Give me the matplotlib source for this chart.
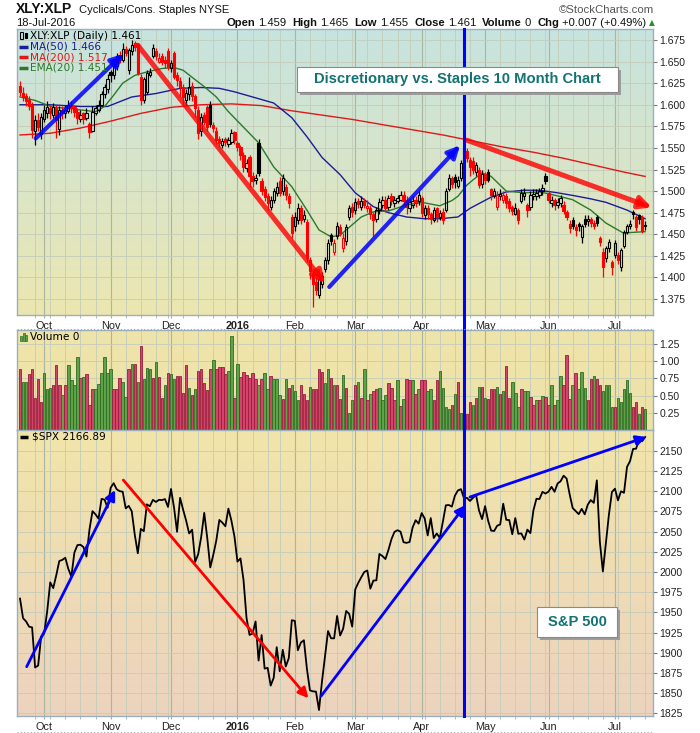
import numpy as np
import pandas as pd
import matplotlib
matplotlib.use("Agg")
import matplotlib.pyplot as plt
import matplotlib.colors as mcolors
import matplotlib.transforms as mtransforms
from matplotlib.lines import Line2D
from matplotlib.patches import Rectangle

# trading days on the chart (21-Sep-2015 .. 18-Jul-2016)
holidays = ["2015-11-26", "2015-12-25", "2016-01-01", "2016-01-18",
            "2016-02-15", "2016-03-25", "2016-05-30", "2016-07-04"]
dates = pd.bdate_range("2015-09-21", "2016-07-18")
dates = dates[~dates.isin(pd.to_datetime(holidays))]
event_day = "2016-04-21"

# XLY:XLP daily candles
opens = [1.622, 1.614, 1.610, 1.606, 1.600, 1.570, 1.582, 1.566, 1.584, 1.590,
         1.596, 1.588, 1.596, 1.572, 1.594, 1.590, 1.593, 1.600, 1.597, 1.592,
         1.584, 1.590, 1.585, 1.578, 1.570, 1.590, 1.594, 1.600, 1.612, 1.618,
         1.638, 1.634, 1.645, 1.658, 1.652, 1.664, 1.640, 1.662, 1.672, 1.670,
         1.632, 1.606, 1.615, 1.634, 1.656, 1.662, 1.650, 1.656, 1.652, 1.662,
         1.642, 1.660, 1.634, 1.628, 1.620, 1.606, 1.612, 1.622, 1.610, 1.594,
         1.570, 1.588, 1.597, 1.600, 1.576, 1.570, 1.560, 1.553, 1.560, 1.555,
         1.557, 1.568, 1.556, 1.551, 1.542, 1.527, 1.540, 1.518, 1.513, 1.556,
         1.512, 1.502, 1.494, 1.482, 1.490, 1.498, 1.512, 1.500, 1.505, 1.494,
         1.470, 1.460, 1.466, 1.480, 1.468, 1.464, 1.420, 1.405, 1.395, 1.380,
         1.392, 1.410, 1.420, 1.449, 1.430, 1.448, 1.458, 1.434, 1.442, 1.470,
         1.482, 1.478, 1.488, 1.482, 1.488, 1.480, 1.480, 1.474, 1.468, 1.478,
         1.484, 1.490, 1.482, 1.494, 1.486, 1.488, 1.490, 1.496, 1.490, 1.480,
         1.484, 1.490, 1.488, 1.492, 1.472, 1.480, 1.474, 1.466, 1.480, 1.470,
         1.476, 1.478, 1.502, 1.515, 1.516, 1.506, 1.515, 1.534, 1.546, 1.536,
         1.535, 1.522, 1.524, 1.508, 1.520, 1.522, 1.502, 1.494, 1.482, 1.494,
         1.490, 1.494, 1.488, 1.482, 1.474, 1.478, 1.488, 1.494, 1.484, 1.482,
         1.494, 1.494, 1.496, 1.500, 1.518, 1.498, 1.486, 1.490, 1.484, 1.486,
         1.484, 1.476, 1.462, 1.466, 1.458, 1.462, 1.447, 1.468, 1.465, 1.468,
         1.463, 1.470, 1.446, 1.430, 1.422, 1.434, 1.418, 1.426, 1.426, 1.412,
         1.436, 1.453, 1.459, 1.476, 1.470, 1.472, 1.470, 1.459]
highs = [1.628, 1.620, 1.614, 1.610, 1.603, 1.588, 1.590, 1.590, 1.600, 1.604,
         1.600, 1.602, 1.600, 1.598, 1.598, 1.600, 1.606, 1.604, 1.600, 1.596,
         1.594, 1.592, 1.596, 1.580, 1.598, 1.600, 1.606, 1.616, 1.624, 1.636,
         1.640, 1.648, 1.660, 1.662, 1.672, 1.668, 1.666, 1.675, 1.674, 1.672,
         1.636, 1.632, 1.640, 1.642, 1.670, 1.666, 1.660, 1.660, 1.656, 1.666,
         1.652, 1.662, 1.638, 1.632, 1.624, 1.618, 1.632, 1.626, 1.612, 1.598,
         1.590, 1.592, 1.600, 1.604, 1.580, 1.574, 1.564, 1.562, 1.563, 1.563,
         1.572, 1.570, 1.558, 1.553, 1.545, 1.537, 1.542, 1.522, 1.520, 1.560,
         1.515, 1.506, 1.498, 1.494, 1.504, 1.510, 1.516, 1.520, 1.508, 1.498,
         1.474, 1.476, 1.486, 1.484, 1.478, 1.468, 1.424, 1.410, 1.400, 1.404,
         1.406, 1.424, 1.444, 1.452, 1.444, 1.464, 1.462, 1.452, 1.462, 1.484,
         1.486, 1.492, 1.492, 1.494, 1.492, 1.490, 1.484, 1.476, 1.482, 1.492,
         1.494, 1.494, 1.496, 1.498, 1.494, 1.496, 1.500, 1.500, 1.494, 1.492,
         1.494, 1.494, 1.500, 1.494, 1.484, 1.484, 1.476, 1.482, 1.482, 1.478,
         1.480, 1.504, 1.520, 1.518, 1.520, 1.518, 1.536, 1.559, 1.550, 1.540,
         1.540, 1.534, 1.528, 1.524, 1.522, 1.526, 1.504, 1.504, 1.500, 1.502,
         1.500, 1.498, 1.492, 1.484, 1.486, 1.480, 1.502, 1.504, 1.486, 1.500,
         1.502, 1.502, 1.504, 1.508, 1.521, 1.500, 1.494, 1.492, 1.492, 1.496,
         1.488, 1.478, 1.466, 1.470, 1.462, 1.464, 1.462, 1.472, 1.472, 1.470,
         1.466, 1.472, 1.448, 1.434, 1.436, 1.444, 1.420, 1.443, 1.430, 1.434,
         1.455, 1.462, 1.466, 1.478, 1.472, 1.474, 1.472, 1.465]
lows = [1.610, 1.604, 1.598, 1.594, 1.562, 1.553, 1.570, 1.560, 1.580, 1.585,
        1.584, 1.585, 1.562, 1.565, 1.584, 1.585, 1.590, 1.590, 1.586, 1.578,
        1.580, 1.578, 1.582, 1.562, 1.568, 1.588, 1.592, 1.598, 1.608, 1.614,
        1.626, 1.630, 1.640, 1.648, 1.650, 1.656, 1.636, 1.658, 1.662, 1.634,
        1.600, 1.602, 1.612, 1.632, 1.654, 1.652, 1.648, 1.646, 1.642, 1.640,
        1.638, 1.630, 1.622, 1.610, 1.600, 1.600, 1.605, 1.604, 1.586, 1.560,
        1.564, 1.576, 1.570, 1.574, 1.568, 1.555, 1.551, 1.550, 1.552, 1.551,
        1.555, 1.555, 1.546, 1.536, 1.522, 1.522, 1.505, 1.505, 1.508, 1.518,
        1.496, 1.488, 1.478, 1.478, 1.486, 1.494, 1.494, 1.496, 1.490, 1.480,
        1.446, 1.454, 1.462, 1.462, 1.464, 1.418, 1.398, 1.366, 1.380, 1.376,
        1.388, 1.406, 1.416, 1.438, 1.426, 1.444, 1.448, 1.430, 1.438, 1.466,
        1.470, 1.474, 1.480, 1.478, 1.480, 1.476, 1.468, 1.448, 1.464, 1.474,
        1.480, 1.476, 1.478, 1.484, 1.482, 1.486, 1.488, 1.484, 1.474, 1.476,
        1.480, 1.482, 1.484, 1.470, 1.468, 1.468, 1.462, 1.464, 1.464, 1.466,
        1.462, 1.476, 1.500, 1.504, 1.504, 1.504, 1.512, 1.530, 1.534, 1.518,
        1.520, 1.518, 1.504, 1.504, 1.508, 1.510, 1.490, 1.492, 1.478, 1.490,
        1.486, 1.480, 1.476, 1.472, 1.472, 1.462, 1.486, 1.490, 1.470, 1.478,
        1.490, 1.490, 1.492, 1.496, 1.508, 1.486, 1.482, 1.478, 1.480, 1.482,
        1.474, 1.466, 1.452, 1.456, 1.448, 1.454, 1.440, 1.458, 1.460, 1.458,
        1.456, 1.460, 1.436, 1.401, 1.418, 1.430, 1.403, 1.422, 1.416, 1.408,
        1.434, 1.450, 1.456, 1.468, 1.454, 1.462, 1.452, 1.455]
closes = [1.615, 1.609, 1.604, 1.598, 1.571, 1.582, 1.574, 1.586, 1.594, 1.597,
          1.590, 1.597, 1.582, 1.594, 1.590, 1.594, 1.600, 1.596, 1.592, 1.585,
          1.588, 1.584, 1.590, 1.568, 1.592, 1.596, 1.600, 1.612, 1.620, 1.630,
          1.634, 1.645, 1.656, 1.652, 1.665, 1.660, 1.663, 1.669, 1.667, 1.637,
          1.605, 1.630, 1.637, 1.638, 1.666, 1.656, 1.654, 1.650, 1.648, 1.644,
          1.648, 1.632, 1.629, 1.620, 1.609, 1.614, 1.621, 1.610, 1.596, 1.567,
          1.586, 1.580, 1.574, 1.578, 1.573, 1.559, 1.556, 1.558, 1.557, 1.559,
          1.567, 1.559, 1.551, 1.542, 1.528, 1.532, 1.517, 1.512, 1.515, 1.521,
          1.500, 1.493, 1.486, 1.490, 1.500, 1.505, 1.498, 1.515, 1.495, 1.486,
          1.452, 1.470, 1.480, 1.466, 1.472, 1.422, 1.408, 1.392, 1.386, 1.400,
          1.402, 1.420, 1.440, 1.442, 1.440, 1.460, 1.452, 1.446, 1.458, 1.480,
          1.476, 1.487, 1.485, 1.488, 1.484, 1.483, 1.474, 1.467, 1.478, 1.487,
          1.490, 1.480, 1.492, 1.488, 1.490, 1.492, 1.496, 1.489, 1.482, 1.487,
          1.488, 1.486, 1.495, 1.475, 1.480, 1.473, 1.468, 1.478, 1.470, 1.475,
          1.467, 1.500, 1.515, 1.508, 1.510, 1.513, 1.532, 1.550, 1.538, 1.528,
          1.524, 1.530, 1.507, 1.520, 1.513, 1.513, 1.496, 1.500, 1.496, 1.497,
          1.495, 1.486, 1.480, 1.477, 1.480, 1.466, 1.498, 1.498, 1.478, 1.496,
          1.497, 1.498, 1.500, 1.504, 1.512, 1.490, 1.490, 1.484, 1.487, 1.492,
          1.477, 1.470, 1.457, 1.460, 1.455, 1.459, 1.460, 1.462, 1.468, 1.463,
          1.459, 1.463, 1.441, 1.412, 1.434, 1.441, 1.412, 1.440, 1.420, 1.432,
          1.453, 1.460, 1.462, 1.473, 1.458, 1.468, 1.454, 1.461]

# overlays (day index, value)
ma50_x = [0, 10, 20, 29, 37, 45, 53, 60, 66, 71, 78, 84, 90, 95, 100, 106, 111, 117,
          122, 128, 134, 139, 145, 149, 156, 161, 167, 172, 178, 183, 189, 194, 201, 207]
ma50_y = [1.600, 1.600, 1.598, 1.598, 1.609, 1.613, 1.619, 1.620, 1.619, 1.615, 1.608,
          1.602, 1.585, 1.563, 1.539, 1.519, 1.498, 1.482, 1.475, 1.470, 1.468, 1.468,
          1.470, 1.480, 1.493, 1.499, 1.501, 1.501, 1.498, 1.495, 1.491, 1.487, 1.478, 1.468]
ma200_x = [0, 10, 20, 30, 40, 50, 60, 70, 80, 90, 100, 110, 120, 130, 140, 150,
           160, 170, 180, 190, 200, 207]
ma200_y = [1.565, 1.567, 1.573, 1.581, 1.590, 1.597, 1.600, 1.601, 1.599, 1.593, 1.588,
           1.583, 1.577, 1.571, 1.565, 1.558, 1.551, 1.545, 1.538, 1.530, 1.522, 1.517]
ema20_x = [0, 5, 11, 16, 20, 25, 28, 31, 34, 38, 42, 47, 51, 54, 58, 61, 65, 69, 74, 79,
           84, 90, 95, 99, 103, 106, 109, 113, 117, 122, 128, 133, 139, 143, 145, 148,
           150, 153, 156, 161, 167, 172, 175, 183, 189, 194, 200, 202, 207]
ema20_y = [1.609, 1.605, 1.597, 1.596, 1.594, 1.592, 1.598, 1.611, 1.625, 1.634, 1.638,
           1.642, 1.643, 1.640, 1.629, 1.621, 1.609, 1.592, 1.574, 1.556, 1.528, 1.505,
           1.478, 1.455, 1.447, 1.449, 1.458, 1.470, 1.476, 1.477, 1.484, 1.487, 1.483,
           1.489, 1.494, 1.507, 1.513, 1.521, 1.517, 1.500, 1.498, 1.499, 1.497, 1.490,
           1.478, 1.463, 1.451, 1.452, 1.453]

volume = [0.89, 0.70, 0.70, 0.82, 0.89, 0.47, 0.745, 0.40, 0.83, 0.60,
          0.61, 0.66, 0.95, 0.65, 0.51, 0.66, 0.95, 0.73, 0.65, 1.06,
          0.76, 0.77, 0.82, 0.36, 0.60, 0.60, 0.67, 0.83, 1.06, 0.83,
          0.89, 0.59, 0.59, 0.76, 0.70, 0.48, 0.88, 0.96, 0.96, 0.70,
          1.225, 0.745, 0.905, 0.89, 0.76, 0.99, 0.77, 0.47, 0.66, 0.83,
          0.82, 0.745, 0.79, 0.78, 0.54, 0.95, 0.61, 0.51, 0.60, 0.86,
          0.89, 0.69, 0.58, 0.89, 1.01, 0.88, 0.92, 0.92, 0.82, 0.86,
          1.37, 0.47, 0.96, 0.77, 0.84, 0.80, 0.76, 0.83, 0.745, 0.66,
          0.745, 0.83, 0.60, 0.78, 0.745, 0.745, 0.51, 0.455, 0.745, 0.61,
          0.66, 0.57, 0.44, 0.65, 0.52, 0.44, 0.62, 0.60, 0.59, 0.89,
          0.84, 0.69, 0.88, 0.76, 0.66, 0.65, 0.455, 0.80, 0.61, 0.25,
          0.44, 0.65, 0.70, 0.47, 0.88, 0.44, 0.52, 0.57, 0.59, 0.61,
          0.44, 0.51, 0.69, 0.61, 0.44, 0.72, 0.35, 0.455, 0.745, 0.73,
          0.72, 0.52, 0.60, 0.73, 0.72, 0.57, 0.59, 0.44, 0.73, 0.86,
          0.61, 0.34, 0.30, 0.36, 0.52, 0.70, 0.24, 0.18, 0.23, 0.40,
          0.37, 0.47, 0.62, 0.62, 0.47, 0.455, 0.59, 0.59, 0.62, 0.52,
          0.56, 0.935, 0.47, 0.70, 0.54, 0.34, 0.59, 0.56, 0.56, 0.48,
          0.36, 0.44, 0.44, 0.50, 0.48, 0.37, 0.65, 0.37, 0.43, 0.78,
          0.65, 1.09, 0.455, 0.66, 0.83, 0.59, 0.84, 0.61, 0.43, 0.745,
          0.78, 0.745, 0.65, 0.56, 0.66, 0.65, 0.33, 0.33, 0.47, 0.40,
          0.59, 0.72, 0.54, 0.33, 0.40, 0.23, 0.33, 0.30]
vol_dir = ("rggrrrrrgg" "grrrgrgggg" "rgrrrggggg" "grrrggrgrg" "rgggrgrrgr"
           "ggrrrrgrgr" "rrrrgrrrrg" "grgrrrrrrg" "rggrgggrgr" "gggrrrgrrr"
           "rggrgrrgrg" "grgrgrgrrg" "ggrrrgrgrr" "grgrrggrrg" "gggrgrggrr"
           "grgrgrrrgr" "grrgggrggr" "rgrgrrgrgg" "rrrgrgggrr" "grrggggrgg"
           "gggrrgrg")

spx = [1966.97, 1942.74, 1938.76, 1932.24, 1931.34, 1881.77, 1884.09, 1920.03,
       1923.82, 1951.36, 1987.05, 1979.92, 1995.83, 2013.43, 2014.89, 2017.46, 2003.69,
       1994.24, 2023.86, 2033.11, 2033.66, 2030.77, 2018.94, 2052.51, 2075.15, 2071.18,
       2065.89, 2090.35, 2089.41, 2079.36,
       2104.05, 2109.79, 2102.31, 2099.93, 2099.20, 2078.58, 2081.72, 2075.00, 2045.97,
       2023.04, 2053.19, 2050.44, 2083.58, 2081.24, 2089.17, 2086.59, 2089.14, 2088.87,
       2090.11, 2080.41,
       2102.63, 2079.51, 2049.62, 2091.69, 2077.07, 2063.59, 2047.62, 2052.23, 2012.37,
       2021.94, 2043.41, 2073.07, 2041.89, 2005.55, 2021.15, 2038.97, 2064.29, 2060.99,
       2056.50, 2078.36, 2063.36, 2043.94,
       2012.66, 2016.71, 1990.26, 1943.09, 1922.03, 1923.67, 1938.68, 1890.28, 1921.84,
       1880.33, 1881.33, 1859.33, 1868.99, 1906.90, 1877.08, 1903.63, 1882.95, 1893.36,
       1940.24,
       1939.38, 1903.03, 1912.53, 1915.45, 1880.05, 1853.44, 1852.21, 1851.86, 1829.08,
       1864.78, 1895.58, 1926.82, 1917.83, 1917.78, 1945.50, 1921.27, 1929.80, 1951.70,
       1948.05, 1932.23,
       1978.35, 1986.45, 1993.40, 1999.99, 2001.76, 1979.26, 1989.26, 1989.57, 2022.19,
       2019.64, 2015.93, 2027.22, 2040.59, 2049.58, 2051.60, 2049.80, 2036.71, 2035.94,
       2037.05, 2055.01, 2063.95, 2059.74,
       2072.78, 2066.13, 2045.17, 2066.66, 2041.91, 2047.60, 2041.99, 2061.72, 2082.42,
       2082.78, 2080.73, 2094.34, 2100.80, 2102.40, 2091.48, 2091.58, 2087.79, 2091.70,
       2095.15, 2075.81, 2065.30,
       2081.43, 2063.37, 2051.12, 2050.63, 2057.14, 2058.69, 2084.39, 2064.46, 2064.11,
       2046.61, 2066.66, 2047.21, 2047.63, 2040.04, 2052.32, 2048.04, 2076.06, 2090.54,
       2090.10, 2099.06, 2096.95,
       2099.33, 2105.26, 2099.13, 2109.41, 2112.13, 2119.12, 2115.48, 2096.07, 2079.06,
       2075.32, 2071.50, 2077.99, 2071.22, 2083.25, 2088.90, 2085.45, 2113.32, 2037.41,
       2000.54, 2036.09, 2070.77, 2098.86,
       2102.95, 2088.55, 2099.73, 2097.90, 2129.90, 2137.16, 2152.14, 2152.43, 2163.75,
       2161.74, 2166.89]

# hand-drawn trend arrows (start day, start value, end day, end value, colour)
arrows_top = [(5.2, 1.561, 34.2, 1.659, "blue"), (39.0, 1.669, 101.0, 1.393, "red"),
              (102.4, 1.389, 145.7, 1.553, "blue"), (147.9, 1.559, 209.2, 1.481, "red")]
arrows_spx = [(2.2, 1882.7, 31.5, 2101.4, "blue"), (34.2, 2113.7, 95.5, 1843.6, "red"),
              (99.7, 1846.4, 147.5, 2082.8, "blue"), (149.0, 2092.7, 207.4, 2167.0, "blue")]

top_ticks = [1.375 + 0.025 * i for i in range(13)]
vol_ticks = [0.25, 0.50, 0.75, 1.00, 1.25]
spx_ticks = list(range(1825, 2151, 25))

plt.rcParams["font.family"] = ["Liberation Sans", "DejaVu Sans"]
W, H = 700, 733
fig = plt.figure(figsize=(W / 100, H / 100), dpi=100)
PIX = mtransforms.IdentityTransform()

n = len(dates)
x = np.arange(n)
month_idx = [i for i in range(1, n) if dates[i].month != dates[i - 1].month]
month_lbl = [("2016" if dates[i].month == 1 else dates[i].strftime("%b")) for i in month_idx]
week_idx = [i for i in range(1, n) if dates[i].weekday() < dates[i - 1].weekday()]
ev = dates.get_loc(pd.Timestamp(event_day))

L, R = 17, 653
ax1 = fig.add_axes([L / W, 1 - 315 / H, (R - L) / W, (315 - 28.5) / H])
ax2 = fig.add_axes([L / W, 1 - 430 / H, (R - L) / W, (430 - 329.5) / H])
ax3 = fig.add_axes([L / W, 1 - 716 / H, (R - L) / W, (716 - 430) / H])


def shade(ax, top, bottom):
    t = np.array(mcolors.to_rgb(top))
    b = np.array(mcolors.to_rgb(bottom))
    k = np.linspace(0, 1, 256)[:, None, None]
    ax.imshow(t * (1 - k) + b * k, extent=[0, 1, 0, 1], transform=ax.transAxes,
              aspect="auto", zorder=0, interpolation="bilinear")


def frame(ax, ticks, fmt, lim):
    for i in week_idx:
        ax.axvline(i, color="#c3ccb9", lw=0.6, zorder=1)
    for i in month_idx:
        ax.axvline(i, color="#a9b59f", lw=0.8, zorder=1)
    for v in ticks:
        ax.axhline(v, color="#c3ccb9", lw=0.6, zorder=1)
    ax.set_xlim(-1.0, 209.6)
    ax.set_ylim(*lim)
    ax.yaxis.tick_right()
    ax.set_yticks(ticks)
    ax.set_yticklabels([fmt % v for v in ticks])
    ax.tick_params(axis="y", length=3, width=0.8, color="#777777", labelsize=7.5,
                   labelcolor="#222222", pad=1.5)
    for s in ax.spines.values():
        s.set_color("#9bb0ba")
        s.set_linewidth(1)


def months(ax):
    ax.set_xticks(month_idx)
    ax.set_xticklabels(month_lbl)
    ax.set_xticks(week_idx, minor=True)
    ax.tick_params(axis="x", which="both", length=2, color="#aaaaaa", labelsize=7.8,
                   labelcolor="#222222", pad=2.5)
    for t in ax.get_xticklabels():
        if t.get_text() == "2016":
            t.set_fontweight("bold")


# ---- price panel
shade(ax1, "#c6e3e0", "#ece7b1")
frame(ax1, top_ticks, "%.3f", (1.3565, 1.6883))
months(ax1)
ax1.plot(ma200_x, ma200_y, color="#e01818", lw=1.0, zorder=3)
ax1.plot(ma50_x, ma50_y, color="#1c1c96", lw=1.0, zorder=3)
ax1.plot(ema20_x, ema20_y, color="#2a7a2a", lw=1.0, zorder=3)

o, h, l, c = map(np.array, (opens, highs, lows, closes))
prev = np.r_[o[0], c[:-1]]
edge = np.where(c >= prev, "black", "red")
face = [e if cc < oo else "none" for e, cc, oo in zip(edge, c, o)]
top = np.maximum(o, c)
bot = np.minimum(o, c)
ax1.vlines(x, top, h, colors=edge, lw=0.9, zorder=4)
ax1.vlines(x, l, bot, colors=edge, lw=0.9, zorder=4)
ax1.bar(x, np.maximum(top - bot, 0.0007), bottom=bot, width=0.75, color=face,
        edgecolor=edge, linewidth=0.8, zorder=4)

for x0, y0, x1, y1, col in arrows_top:
    rgba = (0, 0, 1, 0.85) if col == "blue" else (1, 0, 0, 0.8)
    ax1.annotate("", xy=(x1, y1), xytext=(x0, y0), annotation_clip=False, zorder=6,
                 arrowprops=dict(arrowstyle="-|>", color=rgba, lw=3.0 if col == "blue" else 3.6,
                                 mutation_scale=18, shrinkA=0, shrinkB=0))

# ---- volume panel
shade(ax2, "#efe4aa", "#ede2a6")
frame(ax2, vol_ticks, "%.2f", (0, 1.46))
ax2.set_xticks([])
vfill = {"r": "#d4436a", "g": "#5ea34a"}
vedge = {"r": "#9a1c3d", "g": "#2f6c22"}
ax2.bar(x, volume, width=0.82, color=[vfill[d] for d in vol_dir],
        edgecolor=[vedge[d] for d in vol_dir], linewidth=0.6, zorder=3)

# ---- S&P 500 panel
shade(ax3, "#f1e5aa", "#ecd3bf")
frame(ax3, spx_ticks, "%d", (1821.7, 2175.6))
months(ax3)
ax3.plot(x, spx, color="black", lw=1.3, zorder=4)
for x0, y0, x1, y1, col in arrows_spx:
    ax3.annotate("", xy=(x1, y1), xytext=(x0, y0), annotation_clip=False, zorder=6,
                 arrowprops=dict(arrowstyle="-|>", color=col, lw=2.0,
                                 mutation_scale=15, shrinkA=0, shrinkB=0))

# vertical marker through all panels
blend = mtransforms.blended_transform_factory(ax1.transData, fig.transFigure)
fig.add_artist(Line2D([ev, ev], [1 - 716 / H, 1 - 28.5 / H], transform=blend,
                      color="#0000ff", lw=2.2, zorder=10))

# dotted separators
for yy in (328.5, 731.5):
    fig.add_artist(Line2D([L, R], [H - yy, H - yy], transform=PIX, color="#9aa8b0",
                          lw=0.8, ls=(0, (1, 2)), zorder=10))


def note(x0, y0, x1, y1, s, size):
    fig.add_artist(Rectangle((x0 + 3, H - y1 - 3), x1 - x0, y1 - y0, transform=PIX,
                             fc="#9c9c9c", ec="none", zorder=20))
    fig.add_artist(Rectangle((x0, H - y1), x1 - x0, y1 - y0, transform=PIX,
                             fc="white", ec="#8a8a8a", lw=0.8, zorder=21))
    fig.text((x0 + x1) / 2 / W, 1 - (y0 + y1) / 2 / H, s, ha="center", va="center",
             fontsize=size, fontweight="bold", color="#137272", zorder=22)


note(297, 67, 618, 92, "Discretionary vs. Staples 10 Month Chart", 10.6)
note(537, 607, 617, 637, "S&P 500", 10.6)


def legend_line(y, color, x0=19, x1=28):
    fig.add_artist(Line2D([x0, x1], [H - y, H - y], transform=PIX, color=color,
                          lw=2.5, solid_capstyle="butt", zorder=12))


def ptext(xp, yp, s, **kw):
    return fig.text(xp / W, 1 - yp / H, s, va="center", zorder=12, **kw)


lg = dict(family="DejaVu Sans", fontsize=7.6)
# candle icon
for x0, y0, y1, filled in ((20, 32, 39, False), (24.5, 33, 38, True)):
    fig.add_artist(Rectangle((x0, H - y1), 2.5, y1 - y0, transform=PIX,
                             fc="black" if filled else "none", ec="black", lw=0.8, zorder=12))
ptext(30, 35.7, "XLY:XLP (Daily) %.3f" % closes[-1], color="black", **lg)
legend_line(46.5, "#1c1c96")
ptext(30, 46.5, "MA(50) 1.466", color="#1c1c96", **lg)
legend_line(57.2, "#e01818")
ptext(30, 57.2, "MA(200) 1.517", color="#e01818", **lg)
legend_line(68, "#2a7a2a")
ptext(30, 68, "EMA(20) 1.451", color="#2a7a2a", **lg)

for x0, hh in ((20, 5), (22.5, 8), (25, 6.5)):
    fig.add_artist(Rectangle((x0, H - 341), 2, hh, transform=PIX, fc="#5ea34a",
                             ec="#2f6c22", lw=0.5, zorder=12))
ptext(30, 336.7, "Volume 0", color="black", **lg)
legend_line(436.7, "black", 20, 28)
ptext(31.5, 436.7, "$SPX %.2f" % spx[-1], color="black", **lg)

# header
ptext(16, 9, "XLY:XLP", fontsize=10, fontweight="bold", color="#111111")
ptext(79, 10, "Cyclicals/Cons. Staples NYSE", fontsize=8, color="#111111")
ptext(654, 10, "\u00a9StockCharts.com", fontsize=8.2, ha="right", color="#555555")
ptext(16, 22.5, "18-Jul-2016", fontsize=8, color="#111111")

renderer = fig.canvas.get_renderer()
row = [("Open", "bold", 3), ("1.459", "normal", 6), ("High", "bold", 3), ("1.465", "normal", 6),
       ("Low", "bold", 3), ("1.455", "normal", 6), ("Close", "bold", 3), ("1.461", "normal", 6),
       ("Volume", "bold", 3), ("0", "normal", 6), ("Chg", "bold", 3),
       ("+0.007 (+0.49%)", "normal", 3)]
xr = 655
t = ptext(xr, 22.5, "\u25b2", fontsize=5.5, ha="right", color="#2c8c2c", family="DejaVu Sans")
xr -= t.get_window_extent(renderer).width
for s, wgt, gap in reversed(row):
    xr -= gap
    t = ptext(xr, 22.5, s, fontsize=8.1, fontweight=wgt, ha="right", color="#111111")
    xr -= t.get_window_extent(renderer).width

fig.savefig("out.png", dpi=100)
